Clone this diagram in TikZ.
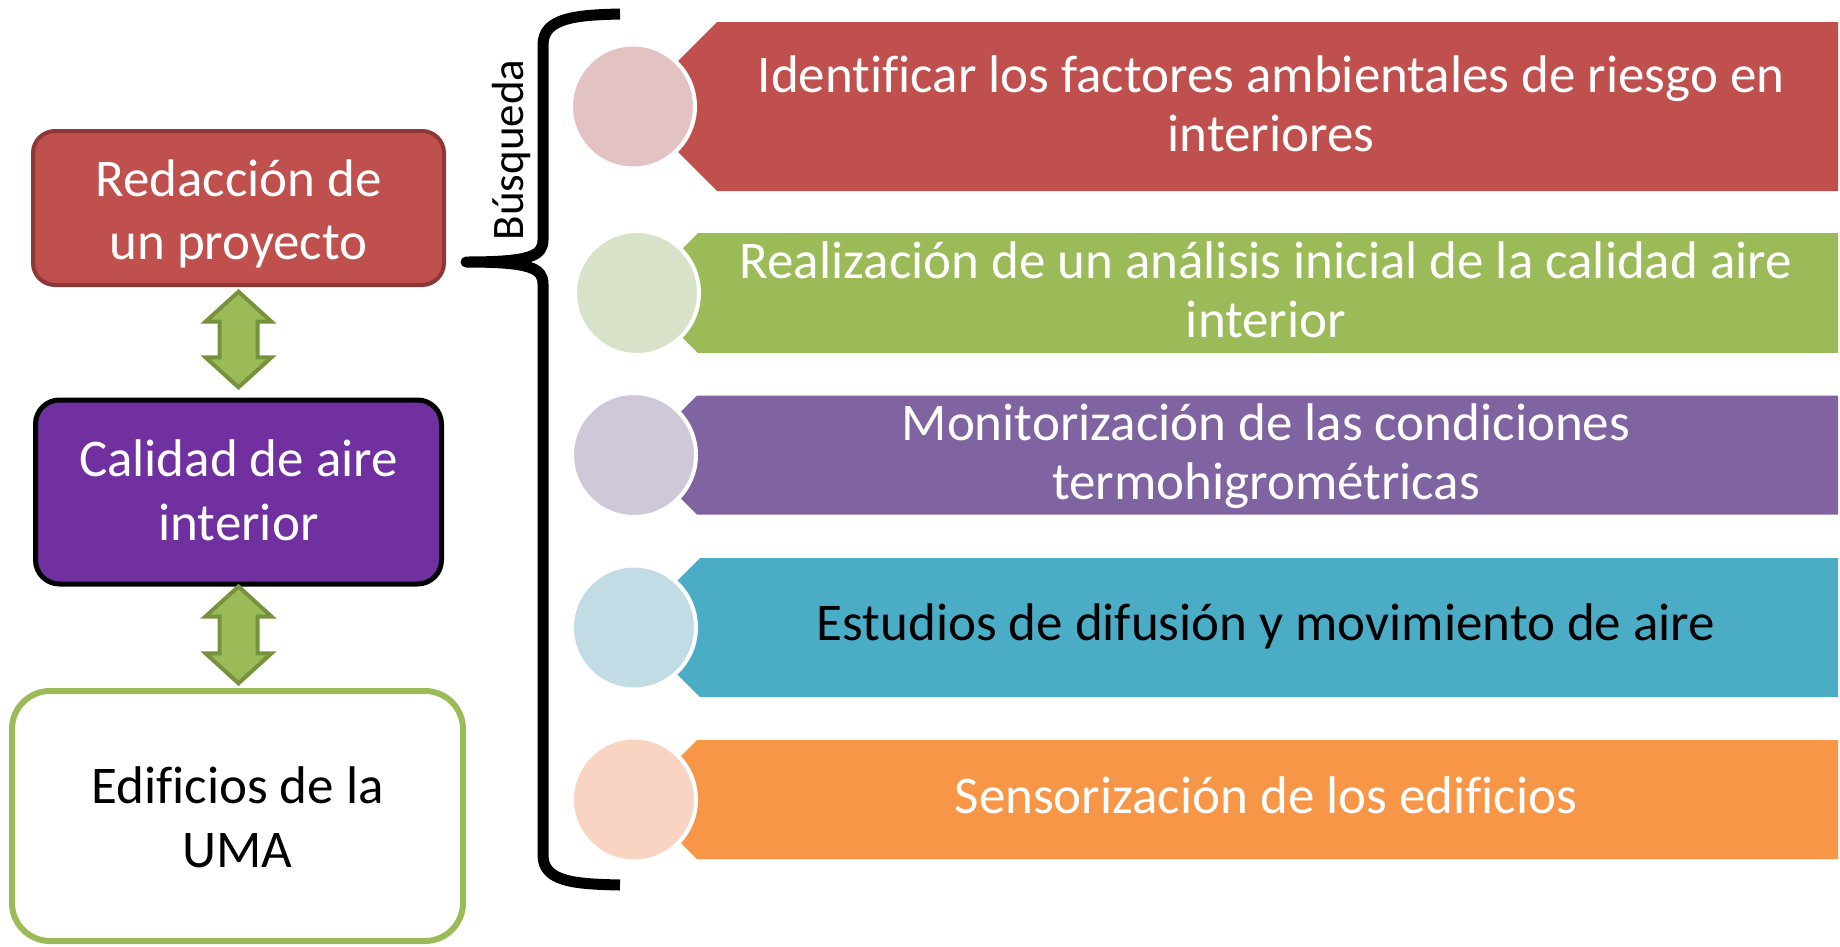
\documentclass[tikz,border=0pt]{standalone}
\usepackage{fontspec}
\setmainfont{Carlito}[Ligatures=NoCommon]
\usetikzlibrary{calc}
\definecolor{cred}{HTML}{C0504D}
\definecolor{credb}{HTML}{8C3836}
\definecolor{cpurpbox}{HTML}{7030A0}
\definecolor{cgreen}{HTML}{9BBB59}
\definecolor{cgreenb}{HTML}{76923C}
\definecolor{cpurple}{HTML}{8064A2}
\definecolor{cblue}{HTML}{4BACC6}
\definecolor{corange}{HTML}{F79646}
\definecolor{lred}{HTML}{E3C2C3}
\definecolor{lgreen}{HTML}{D7E2C8}
\definecolor{lpurple}{HTML}{CEC8D9}
\definecolor{lblue}{HTML}{C1DCE4}
\definecolor{lorange}{HTML}{F9D4C3}
\newcommand\bantext{\fontsize{53}{59}\selectfont}
\newcommand\boxtext{\fontsize{53}{63.5}\selectfont}
\newcommand\banner[4]{% color, ytop, ybot, xcorner
  \fill[#1] (#4,#2) -- (1838,#2) -- (1838,#3) -- (#4,#3) -- ({#4-(#3-#2)/2},{(#2+#3)/2}) -- cycle;}
\newcommand\dblarr[4]{%
  \draw[arr] let \p1=($(#1.south)+(0,#3)$), \p2=($(#2.north)+(0,-#4)$) in
   (\x1,\y1) -- (\x1+33pt,\y1-30pt) -- (\x1+19pt,\y1-30pt) -- (\x1+19pt,\y2+30pt) -- (\x1+33pt,\y2+30pt)
   -- (\x1,\y2) -- (\x1-33pt,\y2+30pt) -- (\x1-19pt,\y2+30pt) -- (\x1-19pt,\y1-30pt) -- (\x1-33pt,\y1-30pt) -- cycle;}
\begin{document}
\begin{tikzpicture}[x=1pt,y=-1pt,
  lbox/.style={inner sep=0pt},
  ltext/.style={align=center, inner sep=0pt, font=\boxtext, anchor=base},
  bant/.style={align=center, inner sep=0pt, font=\bantext, anchor=base},
  dot/.style={circle, minimum size=124pt, inner sep=0pt, draw=white, line width=4pt},
  arr/.style={fill=cgreen, draw=cgreenb, line width=4pt, line join=miter}]
\useasboundingbox[fill=white] (0,0) rectangle (1840,946);

% left boxes
\node[lbox, draw=credb, fill=cred, line width=4pt, rounded corners=22pt,
      minimum width=411pt, minimum height=154pt] (R) at (238.5,208) {};
\node[lbox, draw=black, fill=cpurpbox, line width=5pt, rounded corners=24pt,
      minimum width=406pt, minimum height=184pt] (C) at (238.5,492) {};
\node[lbox, draw=cgreen, fill=white, line width=6pt, rounded corners=38pt,
      minimum width=451pt, minimum height=250pt] (E) at (237.5,816) {};
% base anchor = baseline of the last line
\node[ltext, text=white] (Rt) at (238.5,259.5) {Redacción de\\un proyecto};
\node[ltext, text=white] (Ct) at (238.5,540) {Calidad de aire\\interior};
\node[ltext, text=black] (Et) at (237.5,867) {Edificios de la\\UMA};

\dblarr{R}{C}{4.7}{10.2}
\dblarr{C}{E}{0}{4.7}

% brace
\draw[line width=11pt, line join=round] (620,14) .. controls (575,15) and (543,18) .. (543,45)
  -- (543,240) .. controls (543,256) and (530,262) .. (466,262)
  .. controls (530,262) and (543,268) .. (543,284)
  -- (543,855) .. controls (543,882) and (575,884) .. (620,885);
\node[rotate=90, anchor=base, inner sep=0pt, font=\fontsize{45}{54}\selectfont] (bq) at (523,150) {Búsqueda};

% banners
\banner{cred}{22}{191}{717}
\banner{cgreen}{233}{353}{698}
\banner{cpurple}{395.5}{514.5}{697}
\banner{cblue}{558}{697}{700}
\banner{corange}{740}{859}{697}

\node[dot, fill=lred] (c1) at (633,106.5) {};
\node[dot, fill=lgreen] (c2) at (637,293) {};
\node[dot, fill=lpurple] (c3) at (634,455) {};
\node[dot, fill=lblue] (c4) at (634,627.5) {};
\node[dot, fill=lorange] (c5) at (634,799.5) {};

\node[bant, text=white] (t1) at (1271,151) {Identificar los factores ambientales de riesgo en\\interiores};
\node[bant, text=white] (t2) at (1266,337) {Realización de un análisis inicial de la calidad aire\\interior};
\node[bant, text=white] (t3) at (1266,499) {Monitorización de las condiciones\\termohigrométricas};
\node[bant, text=black] (t4) at (1266,640.6) {Estudios de difusión y movimiento de aire};
\node[bant, text=white] (t5) at (1266,813) {Sensorización de los edificios};
\end{tikzpicture}
\end{document}
